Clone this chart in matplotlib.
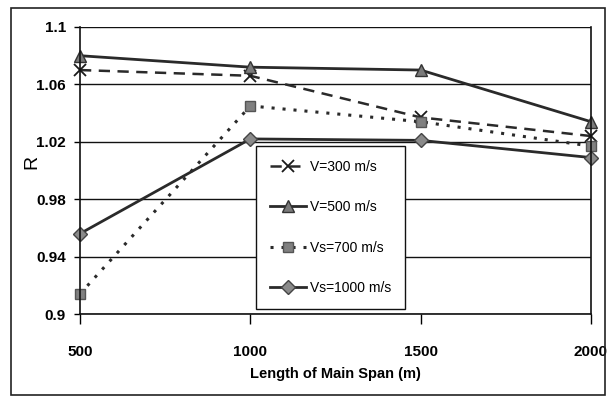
import matplotlib
matplotlib.use("Agg")
import matplotlib.pyplot as plt
from matplotlib.patches import Rectangle
from matplotlib import font_manager

# Span lengths (m) and response ratio R for each velocity case
span_lengths = [500, 1000, 1500, 2000]
r_v300 = [1.070, 1.066, 1.037, 1.024]
r_v500 = [1.080, 1.072, 1.070, 1.034]
r_vs700 = [0.914, 1.045, 1.034, 1.017]
r_vs1000 = [0.956, 1.022, 1.021, 1.009]

series_labels = ["V=300 m/s", "V=500 m/s", "Vs=700 m/s", "Vs=1000 m/s"]
x_ticks = [500, 1000, 1500, 2000]
y_ticks = [0.9, 0.94, 0.98, 1.02, 1.06, 1.1]
y_tick_labels = ["0.9", "0.94", "0.98", "1.02", "1.06", "1.1"]

names = {f.name for f in font_manager.fontManager.ttflist}
narrow = "Liberation Sans Narrow" if "Liberation Sans Narrow" in names else "Liberation Sans"
plt.rcParams["font.family"] = [narrow, "DejaVu Sans"]

W, H = 614, 398
fig = plt.figure(figsize=(W / 100, H / 100), dpi=100)
ax = fig.add_axes([80 / W, 1 - 314 / H, (591 - 80) / W, (314 - 27) / H])

ax.plot(span_lengths, r_v300, color="#2a2a2a", lw=1.8, ls=(0, (4.5, 3)),
        marker="x", ms=9, mew=1.3, mec="#1a1a1a", label=series_labels[0], clip_on=False)
ax.plot(span_lengths, r_v500, color="#2a2a2a", lw=2.0, ls="-",
        marker="^", ms=9, mfc="#7a7a7a", mec="#333333", mew=1.0,
        label=series_labels[1], clip_on=False)
ax.plot(span_lengths, r_vs700, color="#2a2a2a", lw=2.2, ls=(0, (1, 2.6)),
        marker="s", ms=7.5, mfc="#808080", mec="#555555", mew=1.0,
        label=series_labels[2], clip_on=False)
ax.plot(span_lengths, r_vs1000, color="#2a2a2a", lw=2.0, ls="-",
        marker="D", ms=7.5, mfc="#8a8a8a", mec="#444444", mew=1.0,
        label=series_labels[3], clip_on=False)

ax.set_xlim(500, 2000)
ax.set_ylim(0.9, 1.1)
ax.set_xticks(x_ticks)
ax.set_yticks(y_ticks)
ax.set_yticklabels(y_tick_labels)
ax.yaxis.grid(True, color="#111111", lw=1.0)
ax.set_axisbelow(True)
for side in ["left", "right", "bottom"]:
    ax.spines[side].set_color("#111111")
    ax.spines[side].set_linewidth(1.2)
ax.spines["top"].set_visible(False)

ax.tick_params(axis="y", direction="out", length=4, width=1, pad=6,
               labelsize=11)
ax.tick_params(axis="x", direction="out", length=7, width=1, pad=15,
               labelsize=11)
for lbl in ax.get_xticklabels() + ax.get_yticklabels():
    lbl.set_fontweight("bold")

ax.set_xlabel("Length of Main Span (m)", fontsize=10.5, fontweight="bold", labelpad=6)
ax.set_ylabel("R", fontsize=14)
ax.yaxis.set_label_coords(-0.078, 0.53)

leg = fig.legend(loc="upper left", bbox_to_anchor=(256 / W, 1 - 146 / H),
                 bbox_transform=fig.transFigure, fontsize=10, frameon=True,
                 fancybox=False, edgecolor="#111111", framealpha=1,
                 labelspacing=1.9, handlelength=2.6, handletextpad=0.3,
                 borderpad=1.0, borderaxespad=0)
leg.get_frame().set_linewidth(1.0)

# Border around the whole chart
fig.patches.append(Rectangle((11 / W, 3 / H), 594 / W, 387 / H, transform=fig.transFigure,
                             fill=False, edgecolor="#222222", lw=1.2))

fig.savefig("out.png", dpi=100)
